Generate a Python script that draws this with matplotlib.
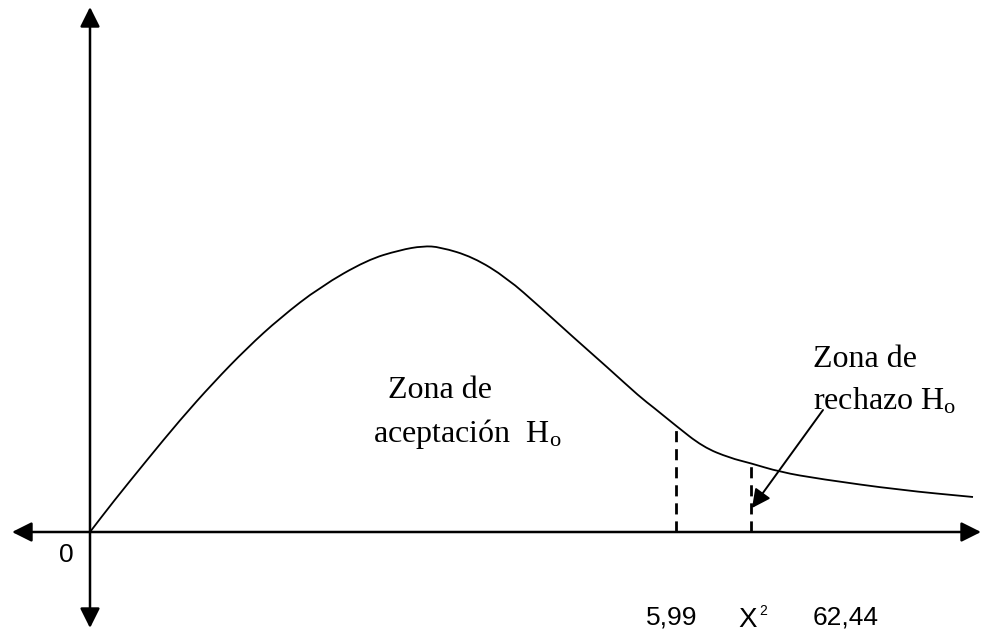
import numpy as np
import matplotlib
matplotlib.use('Agg')
import matplotlib.pyplot as plt
from matplotlib.path import Path
from matplotlib.patches import PathPatch

plt.rcParams['mathtext.fontset'] = 'custom'
plt.rcParams['mathtext.rm'] = 'Liberation Serif'
plt.rcParams['mathtext.it'] = 'Liberation Serif:italic'

# curve (origin = where the axes cross, units = pixels)
curve_x = [0, 23, 57, 90, 123, 157, 190, 230, 277, 310, 333, 350, 383, 417,
           450, 483, 517, 550, 563, 585, 613, 640, 660, 690, 730, 810, 883]
curve_y = [0, 30, 72, 112, 149, 184, 214, 245, 272, 282, 286, 285, 275, 254,
           225, 195, 165, 135, 125, 107, 85, 74, 69, 60, 53, 42, 35]

crit_x = [586, 661]
bottom_labels = ['5,99', '62,44']
bottom_x = [582, 756]

fig = plt.figure(figsize=(9.81, 6.32), dpi=100)
ax = fig.add_axes([0, 0, 1, 1])
ax.set_xlim(-90, 891)
ax.set_ylim(-100, 532)
ax.axis('off')

# axes with arrow heads
head = dict(color='black', lw=1.8, mutation_scale=30, shrinkA=0, shrinkB=0)
ax.annotate('', xy=(891, 0), xytext=(-78, 0), arrowprops=dict(arrowstyle='<|-|>', **head))
ax.annotate('', xy=(0, 525), xytext=(0, -96), arrowprops=dict(arrowstyle='<|-|>', **head))

# density curve, smoothed with quadratic bezier segments through the read points
pts = np.column_stack([curve_x, curve_y]).astype(float)
verts = [pts[0], (pts[0] + pts[1]) / 2]
codes = [Path.MOVETO, Path.LINETO]
for i in range(1, len(pts) - 1):
    verts += [pts[i], (pts[i] + pts[i + 1]) / 2]
    codes += [Path.CURVE3, Path.CURVE3]
verts.append(pts[-1])
codes.append(Path.LINETO)
ax.add_patch(PathPatch(Path(verts, codes), facecolor='none', edgecolor='black', lw=1.3))

# critical lines
for cx in crit_x:
    top = np.interp(cx, curve_x, curve_y)
    ax.plot([cx, cx], [0, top], color='black', lw=2, linestyle=(0, (4, 2.5)))

# pointer to rejection zone
ax.annotate('', xy=(662, 24), xytext=(733, 122),
            arrowprops=dict(arrowstyle='-|>', color='black', lw=1.4,
                            mutation_scale=28, shrinkA=0, shrinkB=0))

serif = dict(family='Liberation Serif', fontsize=23, color='black')
ax.text(298, 134, 'Zona de', va='baseline', ha='left', **serif)
ax.text(283, 90, r'aceptación  H$_\mathrm{o}$', va='baseline', ha='left', **serif)
ax.text(723, 165, 'Zona de', va='baseline', ha='left', **serif)
ax.text(723, 122, r'rechazo H$_\mathrm{o}$', va='baseline', ha='left', **serif)

sans = dict(family='Liberation Sans', color='black')
ax.text(-24, -23, '0', ha='center', va='center', fontsize=19, **sans)
for lab, bx in zip(bottom_labels, bottom_x):
    ax.text(bx, -86, lab, ha='center', va='center', fontsize=19, **sans)
ax.text(658, -95, 'X', ha='center', va='baseline', fontsize=20, **sans)
ax.text(669, -83, '2', ha='left', va='baseline', fontsize=10, **sans)

fig.savefig('out.png', dpi=100)
